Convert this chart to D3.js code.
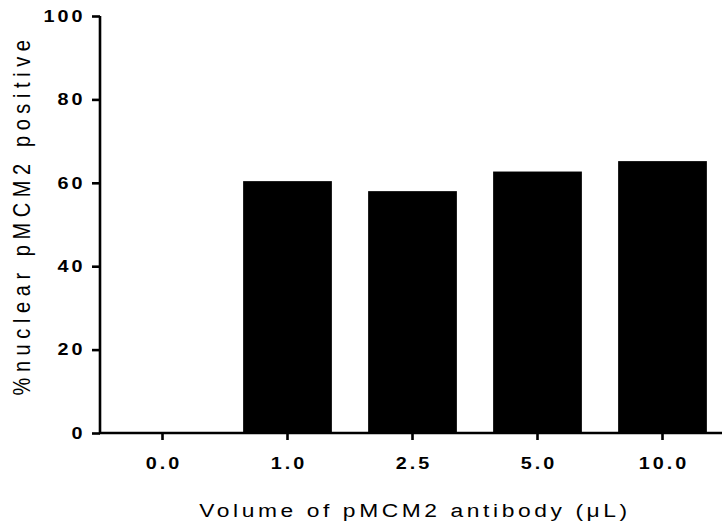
<!DOCTYPE html>
<html>
<head>
<meta charset="utf-8">
<script src="https://cdn.jsdelivr.net/npm/d3@7"></script>
<style>
  body { margin: 0; background: #fff; }
  svg { display: block; font-family: "Liberation Sans", Arial, sans-serif; }
  .tick text { font-weight: bold; font-size: 16.5px; letter-spacing: 2.5px; fill: #000; }
  .axisTitle { font-size: 19px; letter-spacing: 3px; fill: #000; }
</style>
</head>
<body>
<svg id="chart" width="723" height="525"></svg>
<script>
const categories = ["0.0", "1.0", "2.5", "5.0", "10.0"];
const values = [0, 60.4, 58.0, 62.7, 65.2];
const yTicks = [0, 20, 40, 60, 80, 100];

// the source figure is a bit wider than tall, so text is stretched sideways
const stretch = 1.2;

const svg = d3.select("#chart");
const margin = { left: 100, top: 16 };

const x = d3.scaleBand()
  .domain(categories)
  .range([margin.left, 725])
  .paddingInner(0.29)
  .paddingOuter(0.145);

const y = d3.scaleLinear()
  .domain([0, 100])
  .range([433, margin.top]);

// bars
svg.append("g")
  .selectAll("rect")
  .data(categories)
  .join("rect")
  .attr("x", (d) => x(d))
  .attr("width", x.bandwidth())
  .attr("y", (d, i) => y(values[i]))
  .attr("height", (d, i) => y(0) - y(values[i]))
  .attr("fill", "#000");

// y axis
const yAxis = svg.append("g")
  .attr("transform", `translate(${margin.left},0)`)
  .call(d3.axisLeft(y).tickValues(yTicks).tickSize(8).tickPadding(0).tickSizeOuter(0));
yAxis.attr("font-size", null);
yAxis.select(".domain").attr("stroke-width", 2.6).attr("d", `M0,${y(100)}V${y(0) + 1}`);
yAxis.selectAll(".tick line").attr("stroke-width", 2.6);
yAxis.selectAll(".tick text")
  .attr("x", 0)
  .attr("transform", `translate(-14.5,0) scale(${stretch},1)`);

// x axis
const xAxis = svg.append("g")
  .attr("transform", `translate(0,${y(0)})`)
  .call(d3.axisBottom(x).tickSize(7).tickPadding(17).tickSizeOuter(0));
xAxis.attr("font-size", null);
xAxis.select(".domain").attr("stroke-width", 2.6).attr("d", `M${margin.left - 1},0H722`);
xAxis.selectAll(".tick line").attr("stroke-width", 2.6);
xAxis.selectAll(".tick text")
  .attr("dx", 1.25)
  .attr("transform", `scale(${stretch},1)`);

// titles
svg.append("text")
  .attr("class", "axisTitle")
  .attr("transform", `translate(415,517) scale(${stretch},1)`)
  .attr("text-anchor", "middle")
  .text("Volume of pMCM2 antibody (\u03bcL)");

svg.append("text")
  .attr("class", "axisTitle")
  .attr("transform", `translate(30,215) rotate(-90) scale(1,${stretch})`)
  .attr("text-anchor", "middle")
  .style("font-size", "20px")
  .style("letter-spacing", "5.6px")
  .text("%nuclear pMCM2 positive");
</script>
</body>
</html>
